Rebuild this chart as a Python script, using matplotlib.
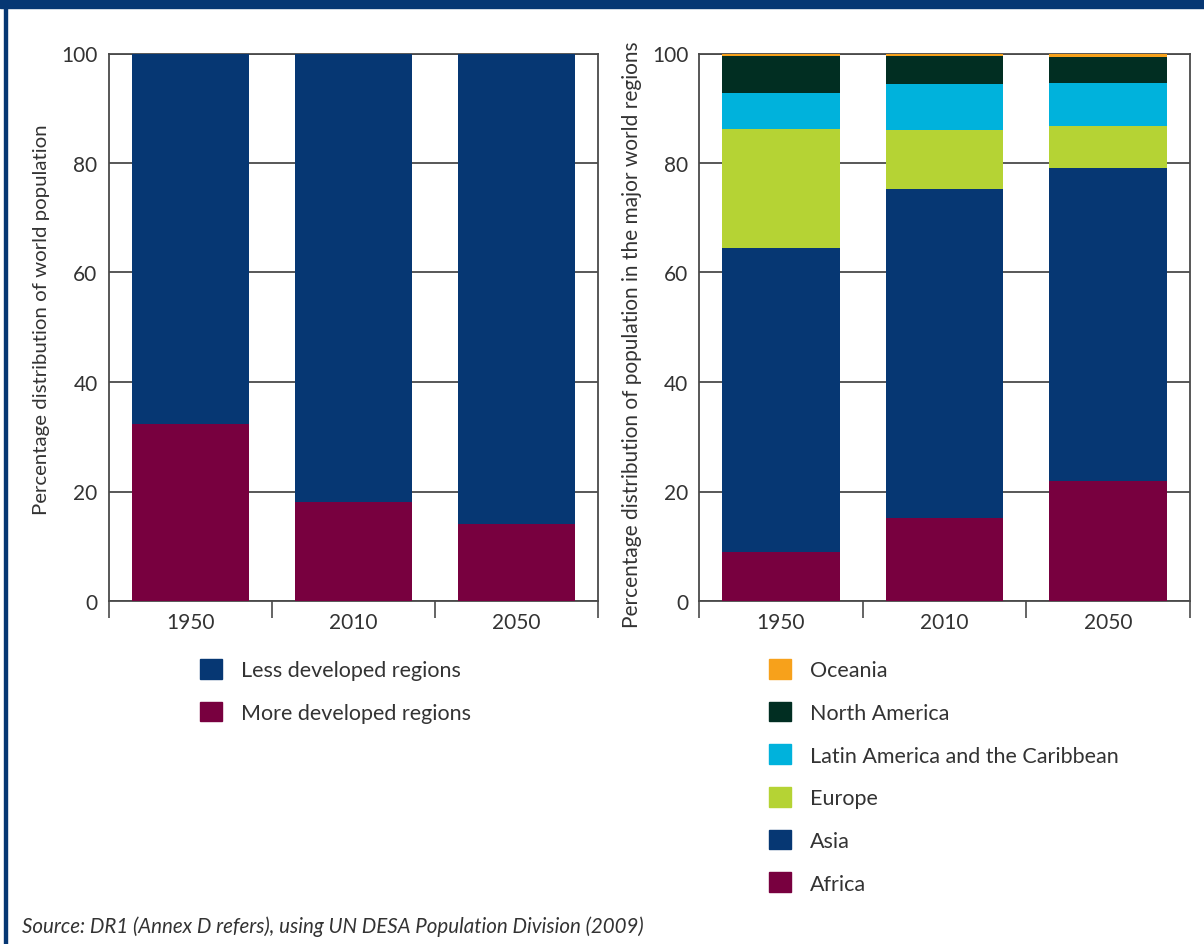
import numpy as np
import matplotlib.pyplot as plt
from matplotlib.patches import Patch, Rectangle

plt.rcParams['font.family'] = ['Lato', 'DejaVu Sans']

# Data
years = ['1950', '2010', '2050']
less_developed = [67.6, 81.9, 85.9]
more_developed = [32.4, 18.1, 14.1]

regions = ['Africa', 'Asia', 'Europe', 'Latin America and the Caribbean',
           'North America', 'Oceania']
africa = [9.0, 15.2, 21.9]
asia = [55.5, 60.1, 57.1]
europe = [21.7, 10.7, 7.7]
latin_america = [6.6, 8.5, 8.0]
north_america = [6.8, 5.0, 4.7]
oceania = [0.4, 0.5, 0.6]
region_values = [africa, asia, europe, latin_america, north_america, oceania]

NAVY = '#063773'
MAROON = '#78003f'
region_colors = [MAROON, NAVY, '#b5d334', '#00b2dc', '#012e22', '#f7a11b']

TXT = '#333333'
GRID = '#4a4a4a'
FS = 15
LEG_FS = 15.5

fig = plt.figure(figsize=(12.04, 9.45), dpi=100)
W, H = 1204, 945


def style_axes(ax):
    ax.set_xlim(-0.5, 2.5)
    ax.set_ylim(0, 100)
    ax.set_yticks([0, 20, 40, 60, 80, 100])
    ax.tick_params(axis='y', length=0, pad=8, labelsize=FS, colors=TXT)
    ax.set_xticks([0, 1, 2])
    ax.set_xticklabels(years)
    ax.tick_params(axis='x', which='major', length=0, pad=8, labelsize=FS, colors=TXT)
    ax.set_xticks([-0.5, 0.5, 1.5, 2.5], minor=True)
    ax.tick_params(axis='x', which='minor', length=12, width=1.2, color=GRID, direction='out')
    ax.yaxis.grid(True, color=GRID, linewidth=1.3)
    ax.set_axisbelow(True)
    for s in ax.spines.values():
        s.set_color(GRID)
        s.set_linewidth(1.3)


x = np.arange(len(years))
bw = 0.72

# Left panel
ax1 = fig.add_axes([108.7 / W, 1 - 602 / H, (597.7 - 108.7) / W, (602 - 54.5) / H])
style_axes(ax1)
ax1.bar(x, more_developed, bw, color=MAROON, zorder=3)
ax1.bar(x, less_developed, bw, bottom=more_developed, color=NAVY, zorder=3)

# Right panel
ax2 = fig.add_axes([699.3 / W, 1 - 602 / H, (1189.5 - 699.3) / W, (602 - 54.5) / H])
style_axes(ax2)
bottom = np.zeros(len(years))
for vals, col in zip(region_values, region_colors):
    ax2.bar(x, vals, bw, bottom=bottom, color=col, zorder=3)
    bottom += np.array(vals)

# Y labels
fig.text(42 / W, 1 - 320 / H, 'Percentage distribution of world population',
         rotation=90, ha='center', va='center', fontsize=14.7, color=TXT)
fig.text(632 / W, 1 - 335 / H,
         'Percentage distribution of population in the major world regions',
         rotation=90, ha='center', va='center', fontsize=15, color=TXT)

# Legends
hs = 22 / (LEG_FS * 100 / 72)
leg_kw = dict(loc='upper left', frameon=False, fontsize=LEG_FS, labelcolor=TXT,
              handlelength=hs, handleheight=hs, handletextpad=0.9,
              labelspacing=1.0, borderpad=0, borderaxespad=0)
left_handles = [Patch(color=NAVY, label='Less developed regions'),
                Patch(color=MAROON, label='More developed regions')]
fig.legend(handles=left_handles, bbox_to_anchor=(200 / W, 1 - 660 / H), **leg_kw)

right_handles = [Patch(color=c, label=r) for r, c in zip(regions, region_colors)][::-1]
fig.legend(handles=right_handles, bbox_to_anchor=(769 / W, 1 - 660 / H), **leg_kw)

# Source
fig.text(22 / W, 1 - 927 / H,
         'Source: DR1 (Annex D refers), using UN DESA Population Division (2009)',
         style='italic', ha='left', va='center', fontsize=14.8, color=TXT)

# Frame: top band and left border
fig.add_artist(Rectangle((0, 1 - 9 / H), 1, 9 / H, transform=fig.transFigure,
                         color=NAVY, zorder=10))
fig.add_artist(Rectangle((4 / W, 0), 2.5 / W, 1, transform=fig.transFigure,
                         color=NAVY, zorder=10))

fig.savefig('out.png', dpi=100)
